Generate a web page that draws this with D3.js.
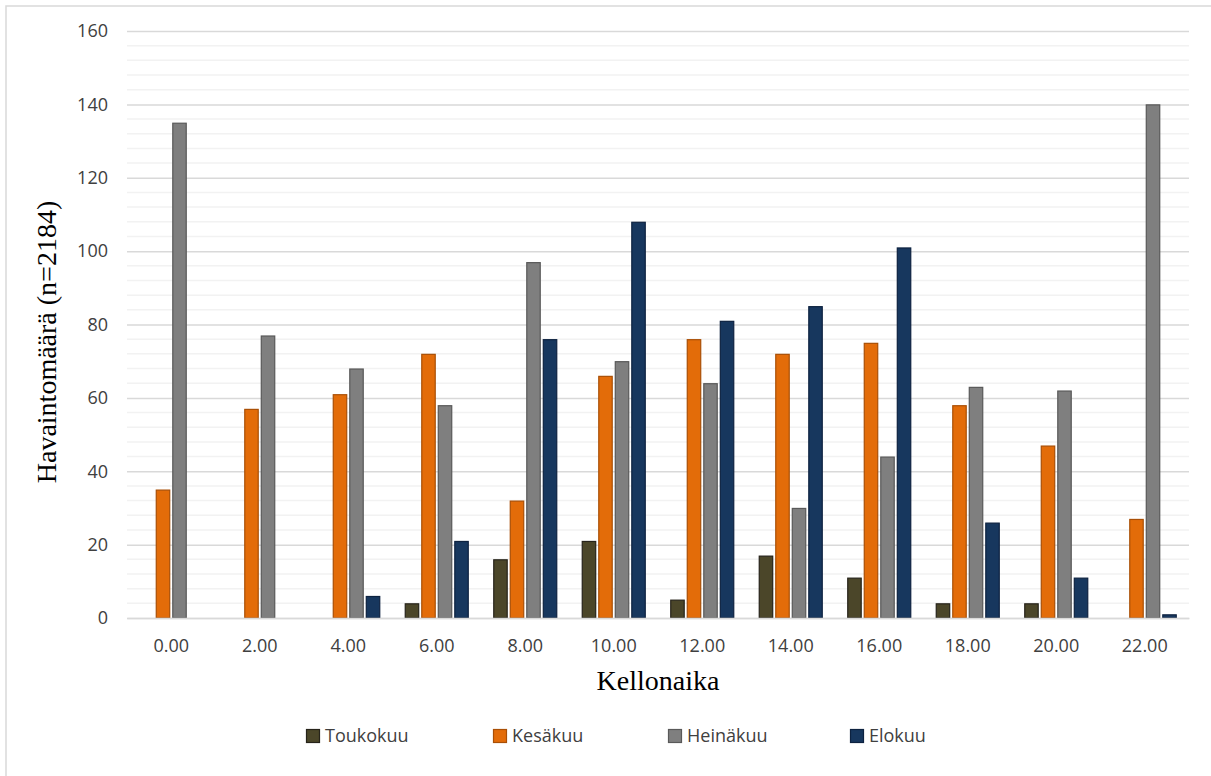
<!DOCTYPE html>
<html>
<head>
<meta charset="utf-8">
<script src="https://cdn.jsdelivr.net/npm/d3@7"></script>
<style>
  html, body { margin: 0; padding: 0; background: #fff; }
  svg { display: block; }
</style>
</head>
<body>
<svg id="chart" width="1211" height="776"></svg>
<script>
// Observation counts per two-hour slot, one list per month
const hours = ["0.00", "2.00", "4.00", "6.00", "8.00", "10.00", "12.00", "14.00", "16.00", "18.00", "20.00", "22.00"];
const months = ["Toukokuu", "Kesäkuu", "Heinäkuu", "Elokuu"];
const toukokuu = [0, 0, 0, 4, 16, 21, 5, 17, 11, 4, 4, 0];
const kesakuu  = [35, 57, 61, 72, 32, 66, 76, 72, 75, 58, 47, 27];
const heinakuu = [135, 77, 68, 58, 97, 70, 64, 30, 44, 63, 62, 140];
const elokuu   = [0, 0, 6, 21, 76, 108, 81, 85, 101, 26, 11, 1];
const yTicks = [0, 20, 40, 60, 80, 100, 120, 140, 160];

const seriesValues = [toukokuu, kesakuu, heinakuu, elokuu];
const fills   = ["#4b4629", "#e36c09", "#7f7f7f", "#17375e"];
const strokes = ["#26231a", "#a94f06", "#595959", "#0d2240"];

const svg = d3.select("#chart");
const plotLeft = 127, plotRight = 1189, plotTop = 31, plotBottom = 618;

// outer chart frame
svg.append("rect")
  .attr("x", 6).attr("y", 6).attr("width", 1230).attr("height", 800)
  .attr("fill", "none").attr("stroke", "#d9d9d9").attr("stroke-width", 1.5);

const x = d3.scaleBand().domain(hours).range([plotLeft, plotRight]).paddingInner(0).paddingOuter(0);
const xs = d3.scaleBand().domain(months).range([-32, 32]).paddingInner(0.125).paddingOuter(0);
const y = d3.scaleLinear().domain([0, 160]).range([plotBottom, plotTop]);

// minor gridlines every 4
const minor = d3.range(4, 160, 4).filter(v => v % 20 !== 0);
svg.append("g").selectAll("line").data(minor).join("line")
  .attr("x1", plotLeft).attr("x2", plotRight)
  .attr("y1", d => y(d)).attr("y2", d => y(d))
  .attr("stroke", "#f2f2f2").attr("stroke-width", 1.5);

// major gridlines with labels via the axis generator
const yAxis = d3.axisLeft(y).tickValues(yTicks).tickSize(-(plotRight - plotLeft)).tickFormat(d3.format("d"));
const gy = svg.append("g").attr("transform", `translate(${plotLeft},0)`).call(yAxis);
gy.select(".domain").remove();
gy.selectAll(".tick line").attr("stroke", "#d9d9d9").attr("stroke-width", 1.5);
gy.selectAll(".tick text")
  .attr("x", -19)
  .attr("fill", "#404040")
  .style("font-family", "'Open Sans', sans-serif")
  .style("font-size", "18px");

// bars
const groups = svg.append("g").selectAll("g").data(months).join("g");
groups.each(function(m, si) {
  d3.select(this).selectAll("rect")
    .data(hours.map((h, i) => ({ h, v: seriesValues[si][i] })).filter(d => d.v > 0))
    .join("rect")
    .attr("x", d => x(d.h) + x.bandwidth() / 2 + xs(m) + 0.5)
    .attr("width", xs.bandwidth() - 1)
    .attr("y", d => y(d.v) + 0.5)
    .attr("height", d => y(0) - y(d.v) - 0.5)
    .attr("fill", fills[si])
    .attr("stroke", strokes[si])
    .attr("stroke-width", 1.2);
});

// x axis
const xAxis = d3.axisBottom(x).tickSize(0).tickPadding(0);
const gx = svg.append("g").attr("transform", `translate(0,${plotBottom})`).call(xAxis);
gx.select(".domain").attr("stroke", "#d9d9d9").attr("stroke-width", 1.5);
gx.selectAll(".tick text")
  .attr("y", 34)
  .attr("dy", 0)
  .attr("fill", "#404040")
  .style("font-family", "'Open Sans', sans-serif")
  .style("font-size", "18px");

// axis titles
svg.append("text")
  .attr("x", (plotLeft + plotRight) / 2).attr("y", 690)
  .attr("text-anchor", "middle")
  .attr("fill", "#000")
  .style("font-family", "'Liberation Serif', 'Times New Roman', serif")
  .style("font-size", "28px")
  .text("Kellonaika");

svg.append("text")
  .attr("transform", "translate(56,342) rotate(-90)")
  .attr("text-anchor", "middle")
  .attr("fill", "#000")
  .style("font-family", "'Liberation Serif', 'Times New Roman', serif")
  .style("font-size", "28px")
  .text("Havaintomäärä (n=2184)");

// legend
const legendX = [306, 493, 668, 850];
const legend = svg.append("g").selectAll("g").data(months).join("g")
  .attr("transform", (d, i) => `translate(${legendX[i]},729)`);
legend.append("rect")
  .attr("x", 0.5).attr("y", 0.5).attr("width", 13).attr("height", 13)
  .attr("fill", (d, i) => fills[i]).attr("stroke", (d, i) => strokes[i]).attr("stroke-width", 1.2);
legend.append("text")
  .attr("x", 19).attr("y", 7).attr("dy", "0.35em")
  .attr("fill", "#404040")
  .style("font-family", "'Open Sans', sans-serif")
  .style("font-size", "18px")
  .text(d => d);
</script>
</body>
</html>
